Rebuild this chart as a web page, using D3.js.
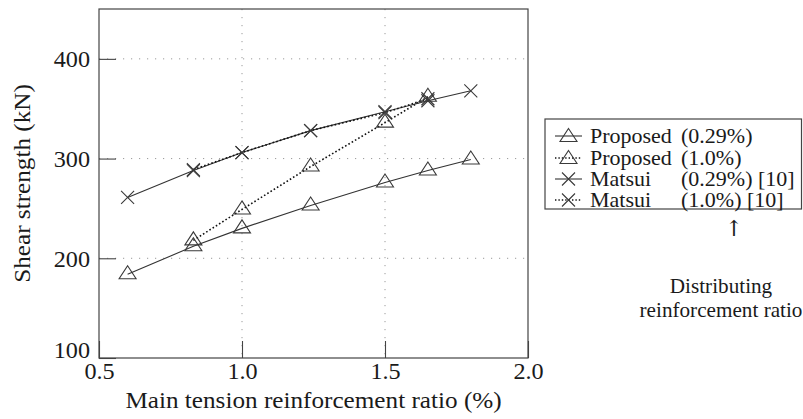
<!DOCTYPE html>
<html><head><meta charset="utf-8">
<script src="https://cdn.jsdelivr.net/npm/d3@7"></script>
<style>
html,body{margin:0;padding:0;background:#fff;}
</style></head>
<body><svg id="chart" width="803" height="419"></svg>
<script>
// ---- data ----
const xAll = [0.6, 0.83, 1.0, 1.24, 1.5, 1.65, 1.8];
const xSub = [0.83, 1.0, 1.24, 1.5, 1.65];
const proposed029 = [184, 212, 230, 253, 276, 288, 299];
const proposed10 = [218, 249, 292, 336, 362];
const matsui029 = [261, 288, 306, 328, 347, 358, 368];
const matsui10 = [289, 306, 328, 346, 360];
const xTicks = [0.5, 1.0, 1.5, 2.0];
const yTicks = [100, 200, 300, 400];
const legendNames = ["Proposed", "Proposed", "Matsui", "Matsui"];
const legendRatios = ["(0.29%)", "(1.0%)", "(0.29%) [10]", "(1.0%) [10]"];

const series = [
  {x: xAll, y: proposed029, marker: "tri", dotted: false},
  {x: xSub, y: proposed10, marker: "tri", dotted: true},
  {x: xAll, y: matsui029, marker: "x", dotted: false},
  {x: xSub, y: matsui10, marker: "x", dotted: true}
];

const FONT = "'Liberation Serif','Times New Roman',serif";
const SX = 1.1;
const svg = d3.select("#chart");
svg.append("rect").attr("width", 803).attr("height", 419).attr("fill", "#fff");

const L = 99, R = 528, T = 9, B = 358;
const x = d3.scaleLinear().domain([0.5, 2.0]).range([L, R]);
const y = d3.scaleLinear().domain([100, 450]).range([B, T]);

function styleText(sel, size, font) {
  const f = font || FONT;
  return sel.attr("font-family", f).attr("font-size", size)
    .style("font-family", f).style("font-size", size + "px").attr("fill", "#1a1a1a");
}
function stext(g, tx, ty, str, size, anchor, sx, font) {
  const t = g.append("text")
    .attr("transform", `translate(${tx},${ty}) scale(${sx || SX},1)`)
    .attr("text-anchor", anchor || "middle")
    .attr("dominant-baseline", "central")
    .text(str);
  return styleText(t, size, font);
}

// grid
const grid = svg.append("g");
grid.selectAll(".gx").data(xTicks.slice(1, -1)).join("line")
  .attr("x1", d => x(d)).attr("x2", d => x(d)).attr("y1", T).attr("y2", B)
  .attr("stroke", "#9a9a9a").attr("stroke-width", 1).attr("stroke-dasharray", "1.2,6.8");
grid.selectAll(".gy").data([200, 300, 400]).join("line")
  .attr("x1", L).attr("x2", R).attr("y1", d => y(d)).attr("y2", d => y(d))
  .attr("stroke", "#9a9a9a").attr("stroke-width", 1).attr("stroke-dasharray", "1.2,6.8");

// axes
const xAxis = d3.axisBottom(x).tickValues(xTicks).tickFormat(d3.format(".1f")).tickSize(-17).tickPadding(0);
const gx = svg.append("g").attr("transform", `translate(0,${B})`).call(xAxis)
  .attr("font-family", null).attr("font-size", null);
gx.select(".domain").remove();
gx.selectAll(".tick line").attr("stroke", "#444").attr("stroke-width", 1.1);
styleText(gx.selectAll(".tick text").attr("y", 0).attr("dy", null)
  .attr("transform", `translate(0,13) scale(1.03,1)`)
  .attr("dominant-baseline", "central"), 23.5);

const yAxis = d3.axisLeft(y).tickValues(yTicks).tickSize(-17).tickPadding(0);
const gy = svg.append("g").attr("transform", `translate(${L},0)`).call(yAxis)
  .attr("font-family", null).attr("font-size", null);
gy.select(".domain").remove();
gy.selectAll(".tick line").attr("stroke", "#444").attr("stroke-width", 1.1);
styleText(gy.selectAll(".tick text").attr("x", 0).attr("dy", null)
  .attr("text-anchor", "end")
  .attr("transform", d => `translate(-9,${d === 100 ? -8 : 0}) scale(1.03,1)`)
  .attr("dominant-baseline", "central"), 23.5);

// frame
svg.append("rect").attr("x", L).attr("y", T).attr("width", R - L).attr("height", B - T)
  .attr("fill", "none").attr("stroke", "#444").attr("stroke-width", 1.2);

// axis titles
stext(svg, (L + R) / 2, 400, "Main tension reinforcement ratio (%)", 22.5, "middle", 1.12);
styleText(svg.append("text")
  .attr("transform", `translate(22,${(T + B) / 2}) rotate(-90) scale(1.12,1)`)
  .attr("text-anchor", "middle").attr("dominant-baseline", "central")
  .text("Shear strength (kN)"), 22.5);

// markers
const triPath = "M0,-8.5L8.5,4.5L-8.5,4.5Z";
const xPath = "M-6.5,-6.5L6.5,6.5M-6.5,6.5L6.5,-6.5";
function drawMarker(g, px, py, type) {
  g.append("path").attr("transform", `translate(${px},${py})`)
    .attr("d", type === "tri" ? triPath : xPath)
    .attr("fill", "none").attr("stroke", "#3a3a3a").attr("stroke-width", 1.1);
}

const line = d3.line().x(d => x(d[0])).y(d => y(d[1]));
const plot = svg.append("g");
series.forEach(s => {
  const pts = s.x.map((v, i) => [v, s.y[i]]);
  plot.append("path").attr("d", line(pts)).attr("fill", "none")
    .attr("stroke", s.dotted ? "#111" : "#333")
    .attr("stroke-width", s.dotted ? 1.6 : 1.1)
    .attr("stroke-dasharray", s.dotted ? "1.6,2.2" : null);
});
series.forEach(s => {
  s.x.forEach((v, i) => drawMarker(plot, x(v), y(s.y[i]), s.marker));
});

// legend
const lg = svg.append("g");
lg.append("rect").attr("x", 545).attr("y", 119).attr("width", 256.5).attr("height", 90)
  .attr("fill", "#fff").attr("stroke", "#444").attr("stroke-width", 1.2);
const rowY = [136, 158, 179, 200];
series.forEach((s, i) => {
  lg.append("line").attr("x1", 555).attr("x2", 582).attr("y1", rowY[i]).attr("y2", rowY[i])
    .attr("stroke", s.dotted ? "#111" : "#333").attr("stroke-width", s.dotted ? 1.4 : 1.1)
    .attr("stroke-dasharray", s.dotted ? "1.4,2" : null);
  drawMarker(lg, 568.5, rowY[i] + (s.marker === "tri" ? 1 : 0), s.marker);
  stext(lg, 590, rowY[i], legendNames[i], 20, "start");
  stext(lg, 681, rowY[i], legendRatios[i], 20, "start");
});

// annotation
stext(svg, 734, 228, "↑", 22, "middle", 1, "'DejaVu Serif',serif");
stext(svg, 721, 286, "Distributing", 20, "middle", 1.06);
stext(svg, 721, 310, "reinforcement ratio", 20, "middle", 1.06);
</script></body></html>
